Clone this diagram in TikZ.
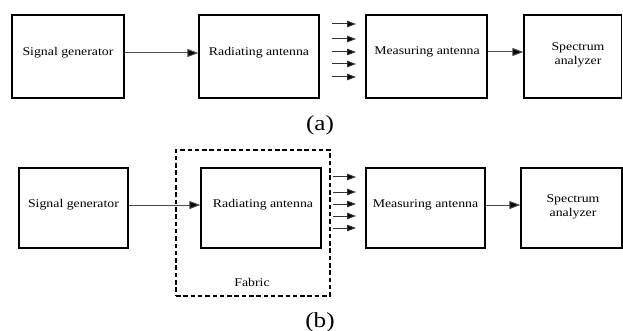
\documentclass[tikz,border=0pt]{standalone}
\usepackage{fontspec}
\setmainfont{Liberation Serif}[FakeStretch=1.17]
\usetikzlibrary{arrows.meta}
\tikzset{
  blk/.style={draw=black, line width=1.2pt, rectangle, inner sep=0pt},
  lbl/.style={font=\fontsize{11.8}{14.5}\selectfont, align=center, inner sep=0pt},
  conn/.style={draw=black!70, line width=1pt, -{Triangle[length=11pt,width=8pt,fill=black]}},
  wave/.style={draw=black!80, line width=1pt, -{Triangle[length=9pt,width=6.5pt,fill=black]}},
  subcap/.style={font=\fontsize{21.5}{24}\selectfont, inner sep=0pt},
  fab/.style={draw=black, line width=1.8pt, dash pattern=on 4.5pt off 2.8pt}
}
\begin{document}
\begin{tikzpicture}[x=1pt,y=-1pt]
\useasboundingbox (0,0) rectangle (623,331);
% (a)
\node[blk, minimum width=112pt, minimum height=83pt] (a1) at (68,56.5) {};
\node[blk, minimum width=120pt, minimum height=83pt] (a2) at (259,56.5) {};
\node[blk, minimum width=121pt, minimum height=83pt] (a3) at (426.5,56.5) {};
\node[blk, minimum width=97.5pt, minimum height=83pt] (a4) at (572.75,56.5) {};
\node[lbl] (ta1) at (68,53) {Signal generator};
\node[lbl] (ta2) at (259,53) {Radiating antenna};
\node[lbl] (ta3) at (427,52) {Measuring antenna};
\node[lbl] (ta4) at (578,55) {Spectrum\\analyzer};
\draw[conn] ([yshift=3.5pt]a1.east) -- ([yshift=3.5pt]a2.west);
\draw[conn] ([yshift=4.5pt]a3.east) -- ([yshift=4.5pt]a4.west);
\foreach \yy [count=\i] in {24,39,52,64,77}{
  \coordinate (as\i) at (332,\yy);
  \coordinate (ae\i) at (356,\yy);
  \draw[wave] (as\i) -- (ae\i);
}
\node[subcap] (capa) at (320,125) {(a)};
% (b)
\node[fab, rectangle, minimum width=154pt, minimum height=146pt] (fab) at (253,223) {};
\node[blk, minimum width=109pt, minimum height=80pt] (b1) at (73.5,208) {};
\node[blk, minimum width=120pt, minimum height=80pt] (b2) at (261,208) {};
\node[blk, minimum width=119pt, minimum height=80pt] (b3) at (425.5,208) {};
\node[blk, minimum width=101pt, minimum height=80pt] (b4) at (571.5,208) {};
\node[lbl] (tb1) at (73.5,205) {Signal generator};
\node[lbl] (tb2) at (263,205) {Radiating antenna};
\node[lbl] (tb3) at (425.5,205) {Measuring antenna};
\node[lbl] (tb4) at (573,207) {Spectrum\\analyzer};
\node[lbl] (tfab) at (252,282) {Fabric};
\draw[conn] ([yshift=3pt]b1.east) -- ([yshift=3pt]b2.west);
\draw[conn] ([yshift=3pt]b3.east) -- ([yshift=3pt]b4.west);
\foreach \yy [count=\i] in {177,192,204,216,228}{
  \coordinate (bs\i) at (333,\yy);
  \coordinate (be\i) at (356,\yy);
  \draw[wave] (bs\i) -- (be\i);
}
\node[subcap] (capb) at (320,322) {(b)};
\end{tikzpicture}
\end{document}
